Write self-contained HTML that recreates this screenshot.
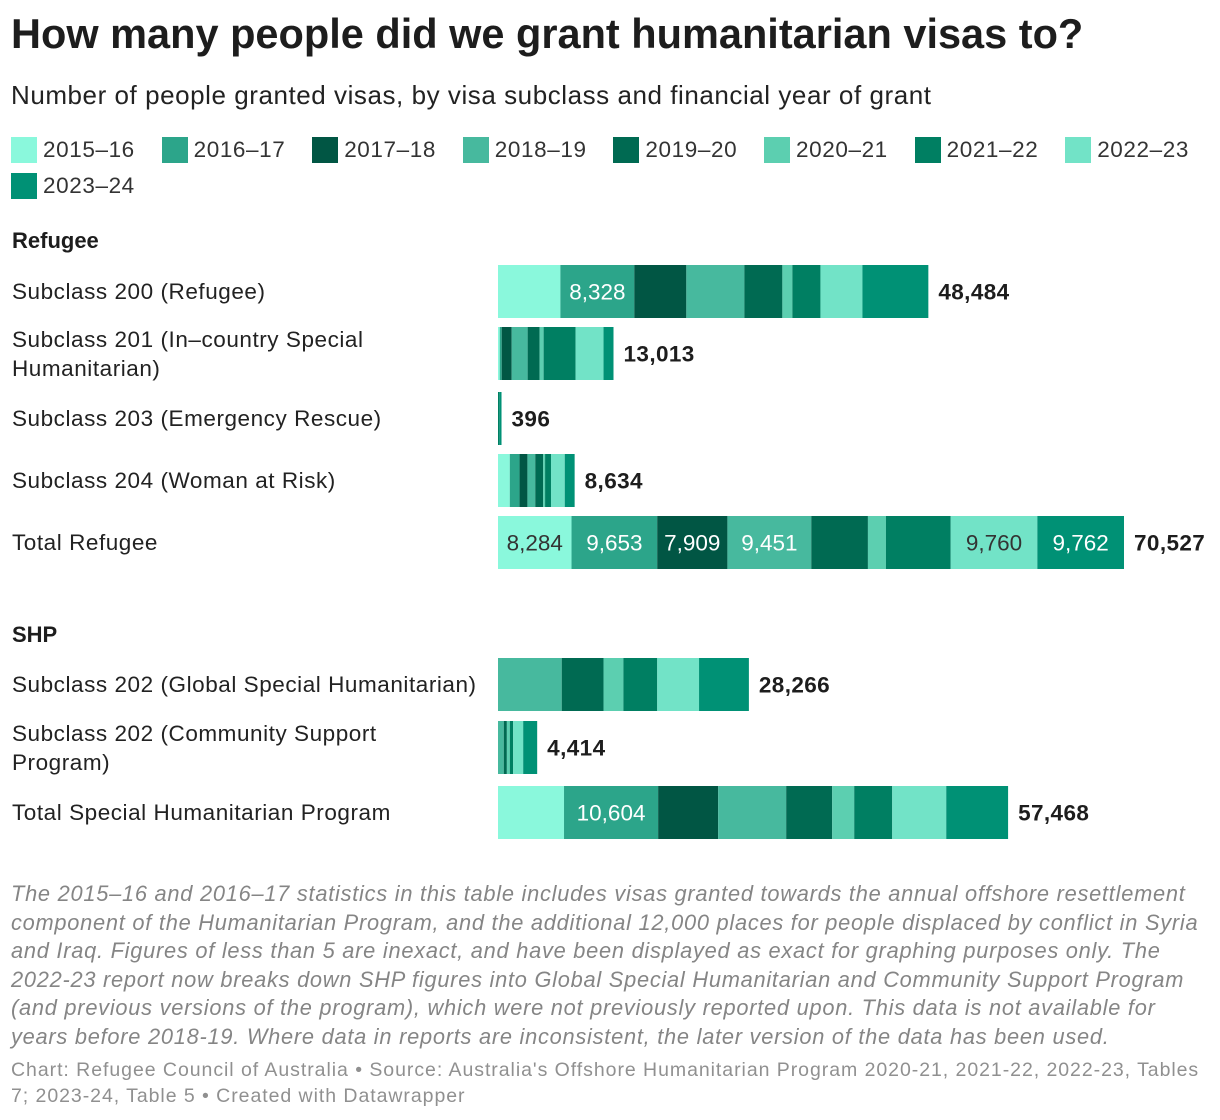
<!DOCTYPE html>
<html><head><meta charset="utf-8">
<style>
body{margin:0;background:#fff;font-family:"Liberation Sans",Arial,sans-serif;color:#1d1d1d;width:1220px;height:1120px;overflow:hidden;position:relative}
.abs{position:absolute}
h1{position:absolute;left:11px;top:10px;margin:0;font-size:41.5px;font-weight:bold;letter-spacing:0px;white-space:nowrap}
.sub{left:11px;top:80px;font-size:26px;color:#222;letter-spacing:0.55px;white-space:nowrap}
.leg{font-size:22.5px;color:#333;display:flex;align-items:center;letter-spacing:0.6px;white-space:nowrap}
.leg span.sw{display:inline-block;width:26px;height:26px;margin-right:6px}
.sec{font-size:22px;font-weight:bold;left:12px}
.rl{left:12px;font-size:22.5px;line-height:29px;color:#222;letter-spacing:0.55px;white-space:nowrap}
.note{left:11px;top:880px;width:1210px;font-size:21.8px;font-style:italic;color:#858585;line-height:28.5px;white-space:nowrap;letter-spacing:0.75px}
.foot{left:11px;top:1057px;width:1210px;font-size:19.5px;color:#909090;line-height:26px;white-space:nowrap;letter-spacing:0.95px}
</style></head><body>
<h1>How many people did we grant humanitarian visas to?</h1>
<div class="abs sub">Number of people granted visas, by visa subclass and financial year of grant</div>
<div id="legend"></div>
<div class="abs sec" style="top:228px">Refugee</div>
<div class="abs sec" style="top:622px">SHP</div>
<div id="labels"></div>
<svg id="chart" class="abs" style="left:0;top:0" width="1220" height="860"></svg>
<div class="abs note">The 2015–16 and 2016–17 statistics in this table includes visas granted towards the annual offshore resettlement<br>component of the Humanitarian Program, and the additional 12,000 places for people displaced by conflict in Syria<br>and Iraq. Figures of less than 5 are inexact, and have been displayed as exact for graphing purposes only. The<br>2022-23 report now breaks down SHP figures into Global Special Humanitarian and Community Support Program<br>(and previous versions of the program), which were not previously reported upon. This data is not available for<br>years before 2018-19. Where data in reports are inconsistent, the later version of the data has been used.</div>
<div class="abs foot">Chart: Refugee Council of Australia • Source: Australia's Offshore Humanitarian Program 2020-21, 2021-22, 2022-23, Tables<br>7; 2023-24, Table 5 • Created with Datawrapper</div>
<script>
const years=["2015–16","2016–17","2017–18","2018–19","2019–20","2020–21","2021–22","2022–23","2023–24"];
const colors=["#8af8dc","#2ca58a","#015644","#47b99e","#006a52","#5ccfb0","#007f62","#72e3c7","#009175"];
const rowNames=["Subclass 200 (Refugee)","Subclass 201 (In–country Special<br>Humanitarian)","Subclass 203 (Emergency Rescue)","Subclass 204 (Woman at Risk)","Total Refugee","Subclass 202 (Global Special Humanitarian)","Subclass 202 (Community Support<br>Program)","Total Special Humanitarian Program"];
const s200=[7030,8328,5860,6540,4280,1130,3160,4730,7426];
const s201=[200,220,1120,1800,1350,450,3600,3150,1123];
const s203=[0,0,0,0,0,0,150,0,246];
const s204=[1330,1100,885,885,885,220,665,1550,1114];
const totalRef=[8284,9653,7909,9451,6380,2030,7298,9760,9762];
const s202g=[0,0,0,7180,4710,2240,3810,4710,5616];
const s202c=[0,0,0,650,350,330,380,1127,1577];
const totalShp=[7438,10604,6762,7664,5184,2479,4283,6086,6968];
const rowsData=[s200,s201,s203,s204,totalRef,s202g,s202c,totalShp];
const shownLabels=[[1],[],[],[],[0,1,2,3,7,8],[],[],[1]];
const rowTops=[265,327,392,454,516,658,721,786];
const barH=53, x0=498, scale=626/70527;
const xPos=v=>x0+v*scale;
const NS="http://www.w3.org/2000/svg";
const svg=document.getElementById('chart');
const fmt=v=>v.toLocaleString('en-US');
const leg=document.getElementById('legend');
years.forEach((y,i)=>{
  const d=document.createElement('div');
  d.className='abs leg';
  d.style.left=(i<8?11+i*150.6:11)+'px';
  d.style.top=(i<8?137:173)+'px';
  d.innerHTML='<span class="sw" style="background:'+colors[i]+'"></span>'+y;
  
  
  leg.appendChild(d);
});
const labs=document.getElementById('labels');
rowsData.forEach((row,r)=>{
  const top=rowTops[r];
  const l=document.createElement('div');
  l.className='abs rl';
  l.innerHTML=rowNames[r];
  const two=rowNames[r].includes('<br>');
  l.style.top=(top+barH/2-(two?29:14.5))+'px';
  
  
  labs.appendChild(l);
  let cum=0;
  row.forEach((v,i)=>{
    if(v<=0)return;
    const rect=document.createElementNS(NS,'rect');
    rect.setAttribute('x',xPos(cum));rect.setAttribute('y',top);
    rect.setAttribute('width',xPos(cum+v)-xPos(cum));rect.setAttribute('height',barH);
    rect.setAttribute('fill',colors[i]);
    
    
    svg.appendChild(rect);
    if(shownLabels[r].includes(i)){
      const t=document.createElementNS(NS,'text');
      t.setAttribute('x',(xPos(cum)+xPos(cum+v))/2);t.setAttribute('y',top+barH/2+8);
      t.setAttribute('text-anchor','middle');t.setAttribute('font-size','22.5');
      t.setAttribute('fill',(i==0||i==7)?'#333':'#fff');
      t.textContent=fmt(v);
      
      
      svg.appendChild(t);
    }
    cum+=v;
  });
  const tt=document.createElementNS(NS,'text');
  tt.setAttribute('x',xPos(cum)+10);tt.setAttribute('y',top+barH/2+8);
  tt.setAttribute('font-size','22.5');tt.setAttribute('font-weight','bold');tt.setAttribute('fill','#1d1d1d');
  tt.setAttribute('letter-spacing','0.4');
  tt.textContent=fmt(cum);
  
  
  svg.appendChild(tt);
});
</script>
</body></html>
